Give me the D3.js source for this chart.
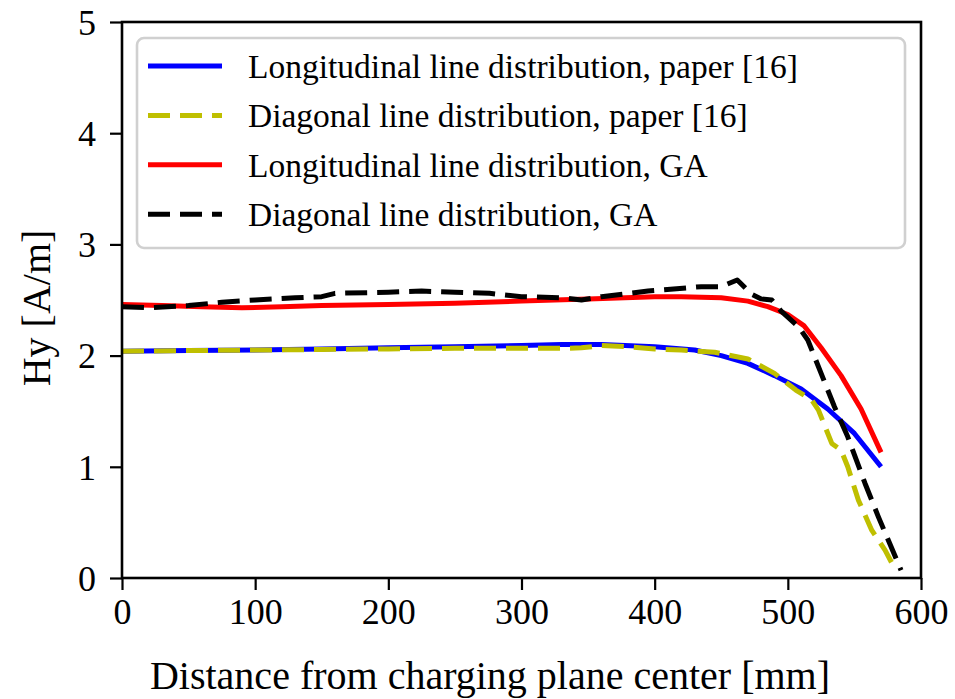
<!DOCTYPE html>
<html>
<head>
<meta charset="utf-8">
<script src="https://cdn.jsdelivr.net/npm/d3@7"></script>
<style>
  body { margin: 0; background: #fff; }
  text { font-family: "Liberation Serif", "DejaVu Serif", serif; fill: #000; }
</style>
</head>
<body>
<script>
var width = 955,
    height = 699;

// series data (x in mm, Hy in A/m)
var longPaperX = [0, 50, 100, 150, 200, 250, 300, 330, 360, 400, 430, 450, 470, 490, 510, 530, 550, 570];
var longPaperY = [2.04, 2.045, 2.05, 2.06, 2.07, 2.08, 2.09, 2.10, 2.10, 2.08, 2.05, 2.00, 1.93, 1.82, 1.70, 1.52, 1.30, 1.00];

var diagPaperX = [0, 50, 100, 150, 200, 250, 300, 330, 345, 360, 380, 400, 420, 445, 470, 490, 506, 518, 523, 528, 533, 540, 545, 553, 563, 573, 581];
var diagPaperY = [2.04, 2.045, 2.05, 2.055, 2.06, 2.065, 2.065, 2.065, 2.07, 2.09, 2.08, 2.06, 2.05, 2.03, 1.97, 1.84, 1.69, 1.60, 1.51, 1.36, 1.21, 1.15, 1.00, 0.70, 0.43, 0.25, 0.07];

var longGAX = [0, 30, 60, 90, 120, 150, 200, 250, 300, 350, 400, 420, 450, 470, 485, 500, 512, 525, 540, 555, 570];
var longGAY = [2.46, 2.45, 2.44, 2.43, 2.44, 2.45, 2.46, 2.47, 2.49, 2.51, 2.53, 2.53, 2.52, 2.49, 2.44, 2.37, 2.27, 2.07, 1.82, 1.52, 1.13];

var diagGAX = [0, 20, 50, 75, 100, 130, 150, 160, 200, 225, 250, 276, 300, 330, 345, 360, 395, 435, 450, 462, 473, 480, 488, 495, 508, 515, 525, 535, 545, 558, 568, 585];
var diagGAY = [2.44, 2.43, 2.45, 2.48, 2.50, 2.52, 2.53, 2.56, 2.57, 2.58, 2.57, 2.56, 2.53, 2.52, 2.50, 2.53, 2.58, 2.62, 2.62, 2.68, 2.55, 2.51, 2.50, 2.40, 2.26, 2.14, 1.84, 1.54, 1.27, 0.85, 0.55, 0.07];

var xTicks = [0, 100, 200, 300, 400, 500, 600];
var yTicks = [0, 1, 2, 3, 4, 5];

var seriesNames = [
    'Longitudinal line distribution, paper [16]',
    'Diagonal line distribution, paper [16]',
    'Longitudinal line distribution, GA',
    'Diagonal line distribution, GA'
];
var seriesColors = ['#0000ff', '#bfbf00', '#ff0000', '#000000'];
var seriesDash = [null, '22,10', null, '22,10'];
var seriesX = [longPaperX, diagPaperX, longGAX, diagGAX];
var seriesY = [longPaperY, diagPaperY, longGAY, diagGAY];

var series = seriesNames.map(function(name, i) {
    return {
        name: name,
        color: seriesColors[i],
        dash: seriesDash[i],
        points: seriesX[i].map(function(x, j) { return [x, seriesY[i][j]]; })
    };
});

/**************************************/

// plot box (note: "top" is reserved on window, so prefixed names)
var plotLeft = 122, plotRight = 921, plotTop = 22, plotBottom = 578;

var svg = d3.select('body')
    .append('svg')
    .attr('width', width)
    .attr('height', height);

var x = d3.scaleLinear().domain([0, 600]).range([plotLeft, plotRight]);
var y = d3.scaleLinear().domain([0, 5]).range([plotBottom, plotTop]);

// lines
var line = d3.line()
    .x(function(d) { return x(d[0]); })
    .y(function(d) { return y(d[1]); });

var plot = svg.append('g').attr('class', 'lines');
plot.selectAll('path')
    .data(series)
    .enter().append('path')
    .attr('d', function(d) { return line(d.points); })
    .attr('fill', 'none')
    .attr('stroke', function(d) { return d.color; })
    .attr('stroke-width', 5)
    .attr('stroke-dasharray', function(d) { return d.dash; })
    .attr('stroke-linecap', 'butt')
    .attr('stroke-linejoin', 'round');

// axes
var xAxis = svg.append('g')
    .attr('transform', 'translate(0,' + plotBottom + ')')
    .call(d3.axisBottom(x).tickValues(xTicks).tickSize(12).tickPadding(8).tickFormat(d3.format('d')));
var yAxis = svg.append('g')
    .attr('transform', 'translate(' + plotLeft + ',0)')
    .call(d3.axisLeft(y).tickValues(yTicks).tickSize(12).tickPadding(14).tickFormat(d3.format('d')));

[xAxis, yAxis].forEach(function(a) {
    a.select('.domain').remove();
    a.selectAll('line').attr('stroke', '#000').attr('stroke-width', 2.2);
    a.selectAll('text')
        .style('font-family', '"Liberation Serif", serif')
        .style('font-size', '36px')
        .attr('fill', '#000');
});
yAxis.selectAll('text').attr('dy', '0.34em');

// frame
svg.append('rect')
    .attr('x', plotLeft)
    .attr('y', plotTop)
    .attr('width', plotRight - plotLeft)
    .attr('height', plotBottom - plotTop)
    .attr('fill', 'none')
    .attr('stroke', '#000')
    .attr('stroke-width', 2.6);

// legend
var legend = svg.append('g').attr('class', 'legend');
legend.append('rect')
    .attr('x', 137)
    .attr('y', 38)
    .attr('width', 768)
    .attr('height', 210)
    .attr('rx', 7)
    .attr('fill', '#fff')
    .attr('fill-opacity', 0.8)
    .attr('stroke', '#d0d0d0')
    .attr('stroke-width', 2.6);

var item = legend.selectAll('g.item')
    .data(series)
    .enter().append('g')
    .attr('class', 'item')
    .attr('transform', function(d, i) { return 'translate(0,' + (66 + i * 49.4) + ')'; });

item.append('line')
    .attr('x1', 148)
    .attr('x2', 222)
    .attr('stroke', function(d) { return d.color; })
    .attr('stroke-width', 5)
    .attr('stroke-dasharray', function(d) { return d.dash; });

item.append('text')
    .attr('x', 248)
    .attr('y', 12)
    .style('font-size', '33.5px')
    .text(function(d) { return d.name; });

// axis labels
svg.append('text')
    .attr('x', 490)
    .attr('y', 689)
    .attr('text-anchor', 'middle')
    .style('font-size', '40px')
    .text('Distance from charging plane center [mm]');

svg.append('text')
    .attr('transform', 'translate(50,' + ((plotTop + plotBottom) / 2 + 8) + ') rotate(-90)')
    .attr('text-anchor', 'middle')
    .style('font-size', '40px')
    .text('Hy [A/m]');
</script>
</body>
</html>
